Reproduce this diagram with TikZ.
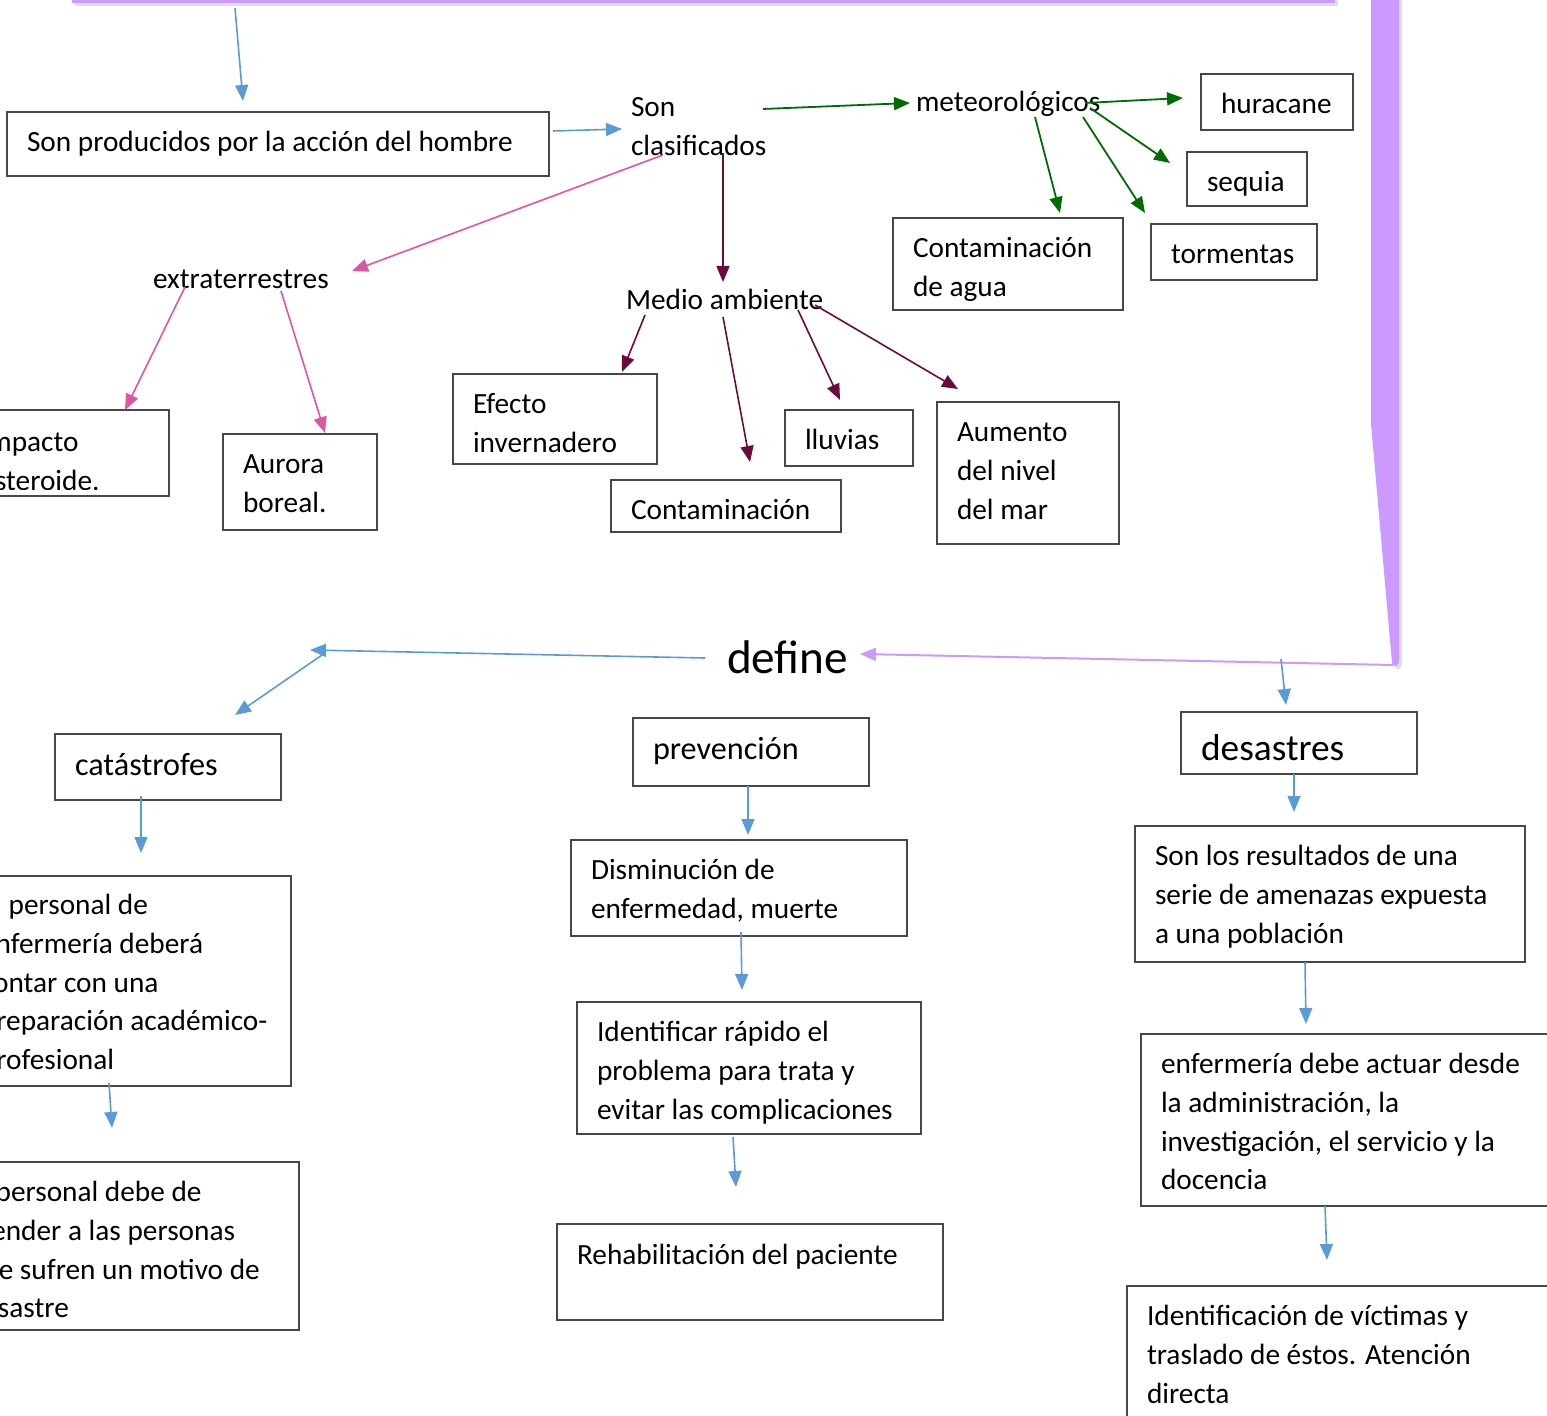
\documentclass[tikz,border=0pt]{standalone}
\usepackage{fontspec}
\setmainfont{Carlito}
\usetikzlibrary{arrows.meta,shadows,fit}

\definecolor{arrowblue}{HTML}{5B9BD5}
\definecolor{leafgreen}{HTML}{006B00}
\definecolor{rosepink}{HTML}{DE55A8}
\definecolor{wine}{HTML}{6B0A3C}
\definecolor{lilac}{HTML}{CC99FF}
\definecolor{frame}{HTML}{474747}

% multi-line left-aligned text whose baseline is the first line
\newcommand{\mlines}[1]{\begin{tabular}[t]{@{}l@{}}#1\end{tabular}}

\tikzset{
  box/.style={draw=frame, line width=1pt, inner sep=0pt, outer sep=0pt},
  txt/.style={anchor=base west, inner sep=0pt, outer sep=0pt, yshift=-0.75pt,
              font=\fontsize{14.65}{19.4}\selectfont},
  midtxt/.style={txt, font=\fontsize{16.1}{20}\selectfont},
  bigtxt/.style={txt, font=\fontsize{18.7}{22}\selectfont},
  hugetxt/.style={txt, font=\fontsize{23.6}{28}\selectfont},
  tipA/.style={-{Triangle[length=8pt,width=6.5pt]}},
  bluearrow/.style={tipA, draw=arrowblue, fill=arrowblue, line width=0.8pt},
  greenarrow/.style={tipA, draw=leafgreen, fill=leafgreen, line width=0.9pt},
  pinkarrow/.style={tipA, draw=rosepink, fill=rosepink, line width=0.8pt},
  winearrow/.style={tipA, draw=wine, fill=wine, line width=0.8pt},
  lilacarrow/.style={tipA, draw=lilac, fill=lilac, line width=1pt},
  bar/.style={fill=lilac, draw=none, drop shadow={shadow xshift=1.5pt, shadow yshift=-1.5pt, opacity=0.25}},
}

\begin{document}
\begin{tikzpicture}[x=0.5pt, y=-0.5pt]
\useasboundingbox (0,0) rectangle (1547,1416);
\clip (0,0) rectangle (1547,1416);

% ---------- frame bars ----------
\path[bar] (72,-40) rectangle (1335,3);
\path[bar] (1371,-40) -- (1399,-40) -- (1399,660)
  .. controls (1399,667) and (1393,668) .. (1392,663) -- (1371,424) -- cycle;

% ---------- boxes ----------
\node[box, fit={(7,112) (549,176)}] (bHombre) {};
\node[box, fit={(1201,74) (1353,130)}] (bHuracane) {};
\node[box, fit={(1187,152) (1307,206)}] (bSequia) {};
\node[box, fit={(1151,224) (1317,280)}] (bTormentas) {};
\node[box, fit={(893,218) (1123,310)}] (bAgua) {};
\node[box, fit={(-40,410) (169,496)}] (bImpacto) {};
\node[box, fit={(223,434) (377,530)}] (bAurora) {};
\node[box, fit={(453,374) (657,464)}] (bEfecto) {};
\node[box, fit={(611,480) (841,532)}] (bContam) {};
\node[box, fit={(785,410) (913,466)}] (bLluvias) {};
\node[box, fit={(937,402) (1119,544)}] (bAumento) {};
\node[box, fit={(55,734) (281,800)}] (bCatas) {};
\node[box, fit={(-40,876) (291,1086)}] (bPersonal) {};
\node[box, fit={(-40,1162) (299,1330)}] (bAtender) {};
\node[box, fit={(633,718) (869,786)}] (bPrev) {};
\node[box, fit={(571,840) (907,936)}] (bDismin) {};
\node[box, fit={(577,1002) (921,1134)}] (bIdent) {};
\node[box, fit={(557,1224) (943,1320)}] (bRehab) {};
\node[box, fit={(1181,712) (1417,774)}] (bDesastres) {};
\node[box, fit={(1135,826) (1525,962)}] (bResult) {};
\node[box, fit={(1141,1034) (1580,1206)}] (bActuar) {};
\node[box, fit={(1127,1286) (1580,1450)}] (bVictimas) {};

% ---------- texts ----------
\node[txt] (tHombre) at (27,150) {Son producidos por la acción del hombre};
\node[txt] (tSon) at (631,115) {\mlines{Son\\clasificados}};
\node[txt] (tMeteo) at (916,110) {meteorológicos};
\node[txt] (tHuracane) at (1221,112) {huracane};
\node[txt] (tSequia) at (1207,190) {sequia};
\node[txt] (tTormentas) at (1171,262) {tormentas};
\node[txt] (tAgua) at (913,256) {\mlines{Contaminación\\de agua}};
\node[txt] (tExtra) at (153,287) {extraterrestres};
\begin{scope}
  \clip (-40,410) rectangle (169,490);
  \node[txt] (tImpacto) at (-19,450) {\mlines{Impacto\\asteroide.}};
\end{scope}
\node[txt] (tAurora) at (243,472) {\mlines{Aurora\\boreal.}};
\node[txt] (tMedio) at (626,308) {Medio ambiente};
\node[txt] (tEfecto) at (473,412) {\mlines{Efecto\\invernadero}};
\node[txt] (tContam) at (631,518) {Contaminación};
\node[txt] (tLluvias) at (805,448) {lluvias};
\node[txt] (tAumento) at (957,440) {\mlines{Aumento\\del nivel\\del mar}};
\node[hugetxt] (tDefine) at (727,672) {define};
\node[midtxt] (tCatas) at (75,774) {catástrofes};
\node[txt] (tPersonal) at (-19,913) {\mlines{El personal de\\enfermería deberá\\contar con una\\preparación académico-\\profesional}};
\node[txt] (tAtender) at (-32,1200) {\mlines{El personal debe de\\atender a las personas\\que sufren un motivo de\\desastre}};
\node[midtxt] (tPrev) at (653,758) {prevención};
\node[txt] (tDismin) at (591,878) {\mlines{Disminución de\\enfermedad, muerte}};
\node[txt] (tIdent) at (597,1040) {\mlines{Identificar rápido el\\problema para trata y\\evitar las complicaciones}};
\node[txt] (tRehab) at (577,1263) {Rehabilitación del paciente};
\node[bigtxt] (tDesastres) at (1201,759) {desastres};
\node[txt] (tResult) at (1155,864) {\mlines{Son los resultados de una\\serie de amenazas expuesta\\a una población}};
\node[txt] (tActuar) at (1161,1072) {\mlines{enfermería debe actuar desde\\la administración, la\\investigación, el servicio y la\\docencia}};
\node[txt] (tVictimas) at (1147,1324) {\mlines{Identificación de víctimas y\\traslado de éstos. Atención\\directa}};

% ---------- connector end points ----------
\coordinate (cTop) at (235,8);        \coordinate (cTopE) at (243,101);
\coordinate (cHom) at (553,131);      \coordinate (cHomE) at (622,129);
\coordinate (cSon) at (763,109);      \coordinate (cSonE) at (910,103);
\coordinate (cM1) at (1085,103);      \coordinate (cM1E) at (1183,98);
\coordinate (cM2) at (1090,108);      \coordinate (cM2E) at (1170,163);
\coordinate (cM3) at (1083,117);      \coordinate (cM3E) at (1145,213);
\coordinate (cM4) at (1035,117);      \coordinate (cM4E) at (1060,213);
\coordinate (cX) at (663,155);        \coordinate (cXE) at (352,271);
\coordinate (cX1) at (185,287);       \coordinate (cX1E) at (125,410);
\coordinate (cX2) at (281,291);       \coordinate (cX2E) at (325,433);
\coordinate (cW) at (723,153);        \coordinate (cWE) at (723,282);
\coordinate (cW1) at (645,315);       \coordinate (cW1E) at (622,372);
\coordinate (cW2) at (723,317);       \coordinate (cW2E) at (750,462);
\coordinate (cW3) at (798,310);       \coordinate (cW3E) at (840,400);
\coordinate (cW4) at (815,305);       \coordinate (cW4E) at (958,389);
\coordinate (cL) at (1393,665);       \coordinate (cLE) at (860,654);
\coordinate (cD) at (705,658);        \coordinate (cDE) at (310,650);
\coordinate (cK) at (322,655);        \coordinate (cKE) at (235,715);
\coordinate (cC1) at (141,796);       \coordinate (cC1E) at (141,853);
\coordinate (cC2) at (109,1083);      \coordinate (cC2E) at (112,1128);
\coordinate (cP1) at (748,786);       \coordinate (cP1E) at (748,835);
\coordinate (cP2) at (741,932);       \coordinate (cP2E) at (742,990);
\coordinate (cP3) at (733,1137);      \coordinate (cP3E) at (736,1187);
\coordinate (cR0) at (1281,659);      \coordinate (cR0E) at (1286,705);
\coordinate (cR1) at (1294,774);      \coordinate (cR1E) at (1294,812);
\coordinate (cR2) at (1305,962);      \coordinate (cR2E) at (1306,1024);
\coordinate (cR3) at (1325,1206);     \coordinate (cR3E) at (1327,1260);

% ---------- connectors ----------
\draw[bluearrow] (cTop) -- (cTopE);
\draw[bluearrow] (cHom) -- (cHomE);
\draw[greenarrow] (cSon) -- (cSonE);
\draw[greenarrow] (cM1) -- (cM1E);
\draw[greenarrow] (cM2) -- (cM2E);
\draw[greenarrow] (cM3) -- (cM3E);
\draw[greenarrow] (cM4) -- (cM4E);
\draw[pinkarrow] (cX) -- (cXE);
\draw[pinkarrow] (cX1) -- (cX1E);
\draw[pinkarrow] (cX2) -- (cX2E);
\draw[winearrow] (cW) -- (cWE);
\draw[winearrow] (cW1) -- (cW1E);
\draw[winearrow] (cW2) -- (cW2E);
\draw[winearrow] (cW3) -- (cW3E);
\draw[winearrow] (cW4) -- (cW4E);
\draw[lilacarrow] (cL) -- (cLE);
\draw[bluearrow] (cD) -- (cDE);
\draw[bluearrow] (cK) -- (cKE);
\draw[bluearrow] (cC1) -- (cC1E);
\draw[bluearrow] (cC2) -- (cC2E);
\draw[bluearrow] (cP1) -- (cP1E);
\draw[bluearrow] (cP2) -- (cP2E);
\draw[bluearrow] (cP3) -- (cP3E);
\draw[bluearrow] (cR0) -- (cR0E);
\draw[bluearrow] (cR1) -- (cR1E);
\draw[bluearrow] (cR2) -- (cR2E);
\draw[bluearrow] (cR3) -- (cR3E);
\end{tikzpicture}
\end{document}
